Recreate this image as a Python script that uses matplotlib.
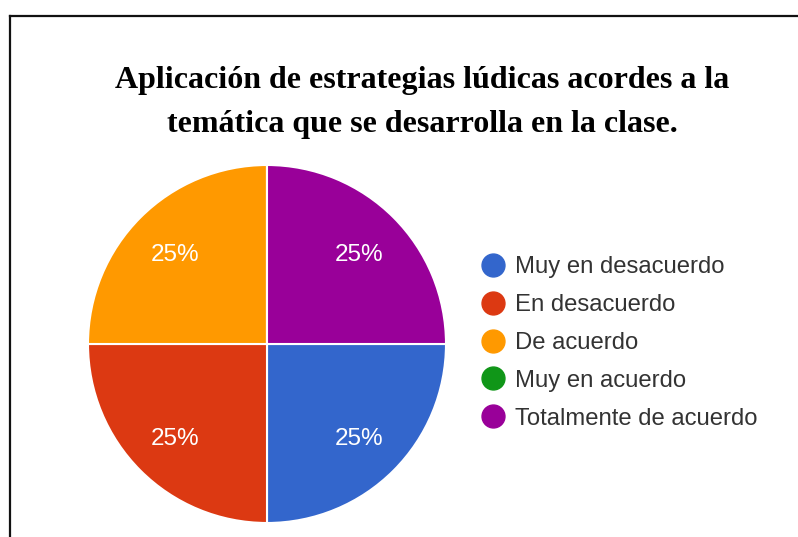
import matplotlib
matplotlib.use("Agg")
import matplotlib.pyplot as plt
from matplotlib.lines import Line2D
from matplotlib.transforms import offset_copy

categories = ["Muy en desacuerdo", "En desacuerdo", "De acuerdo",
              "Muy en acuerdo", "Totalmente de acuerdo"]
values = [25, 25, 25, 0, 25]
colors = ["#3366cc", "#dc3912", "#ff9900", "#109618", "#990099"]
title = "Aplicación de estrategias lúdicas acordes a la\ntemática que se desarrolla en la clase."

W, H = 798, 537
fig = plt.figure(figsize=(W / 100, H / 100), dpi=100)
fig.patch.set_facecolor("white")

# frame lines (top and left)
fig.add_artist(Line2D([9.5 / W, 1.0], [1 - 15.5 / H] * 2, transform=fig.transFigure,
                      color="#111111", lw=1.6))
fig.add_artist(Line2D([9.5 / W] * 2, [0.0, 1 - 15.5 / H], transform=fig.transFigure,
                      color="#111111", lw=1.6))

fig.text(422 / W, 1 - 102.5 / H, title, ha="center", va="center",
         family="Liberation Serif", fontweight="bold", fontsize=23, linespacing=1.66,
         color="#000000")

cx, cy, r = 267, 344, 179
ax = fig.add_axes([(cx - r) / W, (H - cy - r) / H, 2 * r / W, 2 * r / H])
wedges, texts, autotexts = ax.pie(
    values, colors=colors, startangle=0, counterclock=False,
    autopct=lambda p: f"{p:.0f}%" if p > 0 else "", pctdistance=0.73,
    wedgeprops=dict(edgecolor="white", linewidth=1.5),
    textprops=dict(color="white", fontsize=17.5, family="Liberation Sans"))
for t in autotexts:
    t.set_transform(offset_copy(t.get_transform(), fig=fig, x=0, y=-3, units="dots"))
ax.set_xlim(-1, 1)
ax.set_ylim(-1, 1)
ax.set_aspect("equal")
ax.axis("off")

handles = [Line2D([], [], marker="o", linestyle="", markersize=16.5,
                  markerfacecolor=c, markeredgecolor=c) for c in colors]
leg = fig.legend(handles, categories, loc="upper left",
                 bbox_to_anchor=(478.6 / W, 1 - 256.5 / H), frameon=False,
                 prop=dict(family="Liberation Sans", size=17.2),
                 labelspacing=0.66, handletextpad=0.32, handlelength=1.2,
                 borderpad=0, borderaxespad=0)
for t in leg.get_texts():
    t.set_color("#333333")

fig.savefig("out.png", dpi=100, facecolor="white")
